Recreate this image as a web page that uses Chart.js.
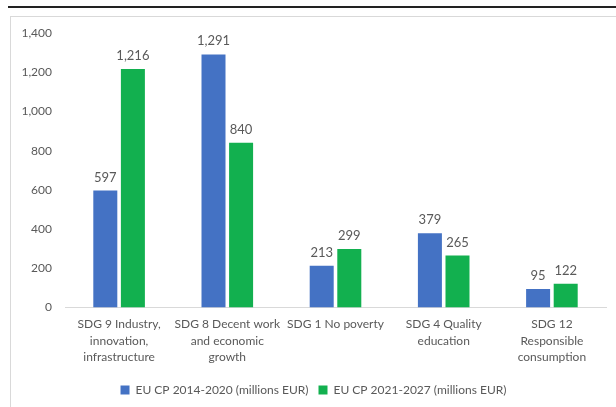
<!DOCTYPE html>
<html>
<head>
<meta charset="utf-8">
<script src="https://cdn.jsdelivr.net/npm/chart.js@4.4.0/dist/chart.umd.min.js"></script>
<style>
  body { margin: 0; background: #fff; width: 616px; height: 407px; overflow: hidden; position: relative; }
  .topline { position: absolute; left: 8px; top: 6px; width: 608px; height: 2px; background: #222; }
  .frame { position: absolute; left: 10px; top: 16px; width: 620px; height: 400px; border-left: 1px solid #d9d9d9; border-top: 1px solid #d9d9d9; }
  .wrap { position: absolute; left: 11px; top: 17px; width: 605px; height: 390px; }
</style>
</head>
<body>
<div class="topline"></div>
<div class="frame"></div>
<div class="wrap"><canvas id="chart"></canvas></div>
<script>
const categories = [
  ['SDG 9 Industry,', 'innovation,', 'infrastructure'],
  ['SDG 8 Decent work', 'and economic', 'growth'],
  ['SDG 1 No poverty'],
  ['SDG 4 Quality', 'education'],
  ['SDG 12', 'Responsible', 'consumption']
];
const seriesNames = ['EU CP 2014-2020 (millions EUR)', 'EU CP 2021-2027 (millions EUR)'];
const cp2014 = [597, 1291, 213, 379, 95];
const cp2021 = [1216, 840, 299, 265, 122];
const yTicks = [0, 200, 400, 600, 800, 1000, 1200, 1400];

const fontFam = 'Lato, "Open Sans", sans-serif';
const txt = '#595959';

// values written above each bar
const valueLabels = {
  id: 'valueLabels',
  afterDatasetsDraw(chart) {
    const ctx = chart.ctx;
    ctx.save();
    ctx.font = '13px ' + fontFam;
    ctx.fillStyle = txt;
    ctx.textAlign = 'center';
    ctx.textBaseline = 'alphabetic';
    chart.data.datasets.forEach((ds, i) => {
      chart.getDatasetMeta(i).data.forEach((bar, j) => {
        ctx.fillText(ds.data[j].toLocaleString('en-US'), bar.x, bar.y - 9);
      });
    });
    ctx.restore();
  }
};

new Chart(document.getElementById('chart'), {
  type: 'bar',
  data: {
    labels: categories,
    datasets: [
      { label: seriesNames[0], data: cp2014, backgroundColor: '#4472C4', categoryPercentage: 0.51, barPercentage: 0.87 },
      { label: seriesNames[1], data: cp2021, backgroundColor: '#12B04F', categoryPercentage: 0.51, barPercentage: 0.87 }
    ]
  },
  options: {
    responsive: true,
    maintainAspectRatio: false,
    animation: false,
    layout: { padding: { left: 10, right: 10, top: 16, bottom: 1 } },
    plugins: {
      legend: {
        position: 'bottom',
        labels: {
          boxWidth: 9, boxHeight: 9, color: txt, padding: 10,
          font: { family: fontFam, size: 12 }
        }
      },
      tooltip: { enabled: false }
    },
    scales: {
      x: {
        grid: { display: false, drawTicks: false },
        border: { color: '#d9d9d9' },
        afterFit: axis => { axis.paddingLeft = 0; axis.paddingRight = 0; },
        ticks: { color: txt, font: { family: fontFam, size: 12, lineHeight: 1.4 }, maxRotation: 0, autoSkip: false, padding: 8 }
      },
      y: {
        min: 0, max: 1400,
        afterBuildTicks: axis => { axis.ticks = yTicks.map(v => ({ value: v })); },
        afterFit: axis => { axis.width = 44; axis.paddingTop = 0; axis.paddingBottom = 0; },
        grid: { display: false, drawTicks: false },
        border: { display: false },
        ticks: { color: txt, font: { family: fontFam, size: 12 }, padding: 13,
          callback: v => v.toLocaleString('en-US') }
      }
    }
  },
  plugins: [valueLabels]
});
</script>
</body>
</html>
